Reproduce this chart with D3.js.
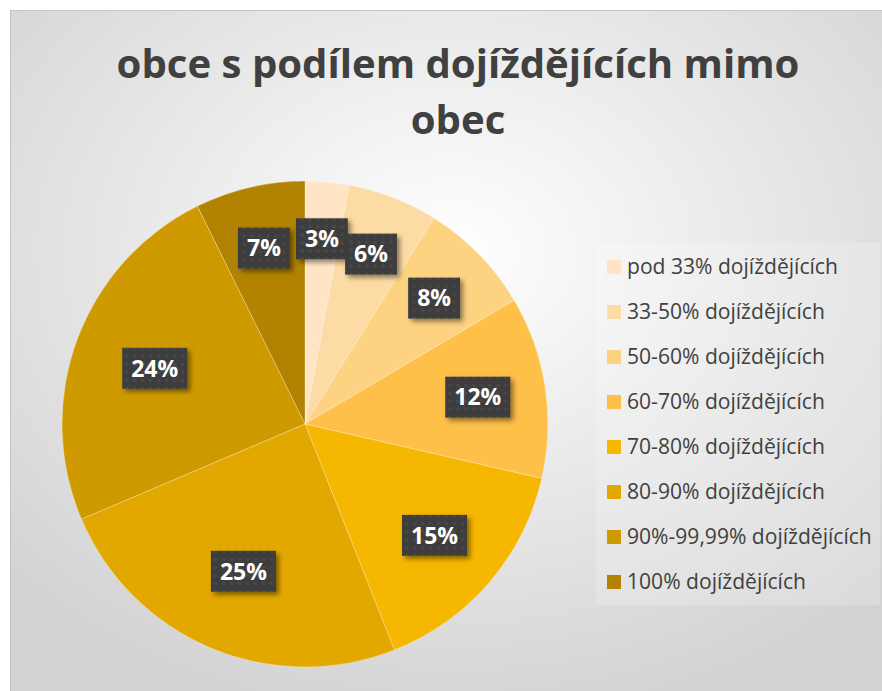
<!DOCTYPE html>
<html>
<head>
<meta charset="utf-8">
<script src="https://cdn.jsdelivr.net/npm/d3@7"></script>
<style>
  body { margin: 0; background: #fff; }
  svg { display: block; }
</style>
</head>
<body>
<svg id="chart" width="882" height="691"></svg>
<script>
// data (share of municipalities, %)
var categories = ["pod 33% dojíždějících", "33-50% dojíždějících", "50-60% dojíždějících",
    "60-70% dojíždějících", "70-80% dojíždějících", "80-90% dojíždějících",
    "90%-99,99% dojíždějících", "100% dojíždějících"];
var values = [2.9, 6.0, 7.6, 12.1, 15.4, 24.6, 24.1, 7.3];
var labels = ["3%", "6%", "8%", "12%", "15%", "25%", "24%", "7%"];
var colors = ["#FFE5C5", "#FDDBA4", "#FDD382", "#FFC04A", "#F5B700", "#E3A800", "#CF9A00", "#B18300"];
var titleLines = ["obce s podílem dojíždějících mimo", "obec"];

var svg = d3.select("#chart");
var width = +svg.attr("width"),
    height = +svg.attr("height");

var defs = svg.append("defs");

var bg = defs.append("radialGradient")
    .attr("id", "bg")
    .attr("cx", "50%").attr("cy", "35%").attr("r", "70%");
bg.append("stop").attr("offset", "0%").attr("stop-color", "#ffffff");
bg.append("stop").attr("offset", "100%").attr("stop-color", "#d2d2d2");

// dotted texture for label boxes
var pat = defs.append("pattern")
    .attr("id", "dots")
    .attr("width", 8).attr("height", 8)
    .attr("patternUnits", "userSpaceOnUse");
pat.append("rect").attr("width", 8).attr("height", 8).attr("fill", "#3e3e3e");
pat.append("circle").attr("cx", 4).attr("cy", 4).attr("r", 1.6).attr("fill", "#4a4a4a");

var shadow = defs.append("filter")
    .attr("id", "shadow")
    .attr("x", "-30%").attr("y", "-30%").attr("width", "160%").attr("height", "160%");
shadow.append("feDropShadow")
    .attr("dx", 3).attr("dy", 3).attr("stdDeviation", 2.5)
    .attr("flood-color", "#000").attr("flood-opacity", 0.45);

// chart area
svg.append("rect")
    .attr("x", 10.5).attr("y", 10.5)
    .attr("width", width).attr("height", height)
    .attr("fill", "url(#bg)")
    .attr("stroke", "#c4c4c4");

// title
var title = svg.append("g").attr("class", "title");
title.selectAll("text")
    .data(titleLines)
    .enter().append("text")
    .attr("x", 458)
    .attr("y", function(d, i) { return 78 + i * 56; })
    .attr("text-anchor", "middle")
    .attr("font-family", "'Open Sans', 'Noto Sans', sans-serif")
    .attr("font-weight", "bold")
    .attr("font-size", 40)
    .attr("fill", "#404040")
    .text(function(d) { return d; });

// squeeze the title to the width of the original (narrower font)
var t0 = title.select("text").node();
var titleSize = 40 * 683 / t0.getComputedTextLength();
title.selectAll("text").attr("font-size", titleSize);

// pie
var cx = 305, cy = 424, radius = 243;

var pie = d3.pie().sort(null).value(function(d) { return d; });
var arcs = pie(values);

var arc = d3.arc().innerRadius(0).outerRadius(radius);

// narrow slices get their label pushed further out, like Excel's best fit
function labelPos(d) {
    var r = radius * (0.78 - 0.005 * d.value);
    return d3.arc().innerRadius(r).outerRadius(r).centroid(d);
}

var gPie = svg.append("g").attr("transform", "translate(" + cx + "," + cy + ")");

gPie.selectAll("path")
    .data(arcs)
    .enter().append("path")
    .attr("d", arc)
    .attr("fill", function(d, i) { return colors[i]; })
    .attr("stroke", "#ffffff")
    .attr("stroke-opacity", 0.35)
    .attr("stroke-width", 0.8);

var lab = gPie.selectAll("g.label")
    .data(arcs)
    .enter().append("g")
    .attr("class", "label")
    .attr("transform", function(d) { return "translate(" + labelPos(d) + ")"; });

lab.append("text")
    .attr("text-anchor", "middle")
    .attr("dy", "0.36em")
    .attr("font-family", "'Open Sans', 'Noto Sans', sans-serif")
    .attr("font-weight", "bold")
    .attr("font-size", 23)
    .attr("fill", "#ffffff")
    .text(function(d, i) { return labels[i]; });

lab.each(function() {
    var g = d3.select(this);
    var tw = g.select("text").node().getComputedTextLength();
    var w = tw + 18, h = 41;
    g.insert("rect", "text")
        .attr("x", -w / 2).attr("y", -h / 2)
        .attr("width", w).attr("height", h)
        .attr("fill", "url(#dots)")
        .attr("filter", "url(#shadow)");
});

// legend
var legX = 607, legY = 267, legStep = 45;

svg.append("rect")
    .attr("x", 596).attr("y", 243)
    .attr("width", 284).attr("height", 362)
    .attr("fill", "#ffffff")
    .attr("fill-opacity", 0.2);

var legend = svg.append("g").attr("class", "legend");

var item = legend.selectAll("g")
    .data(categories)
    .enter().append("g")
    .attr("transform", function(d, i) { return "translate(" + legX + "," + (legY + i * legStep) + ")"; });

item.append("rect")
    .attr("x", 0).attr("y", -7)
    .attr("width", 14).attr("height", 14)
    .attr("fill", function(d, i) { return colors[i]; });

item.append("text")
    .attr("x", 20)
    .attr("dy", "0.35em")
    .attr("font-family", "'Open Sans', 'Noto Sans', sans-serif")
    .attr("font-size", 19)
    .attr("fill", "#404040")
    .text(function(d) { return d; });

// fit legend text to the original width of the longest item
var longest = item.filter(function(d, i) { return i === 6; }).select("text").node();
var legSize = 19 * 245 / longest.getComputedTextLength();
item.selectAll("text").attr("font-size", legSize);
</script>
</body>
</html>
